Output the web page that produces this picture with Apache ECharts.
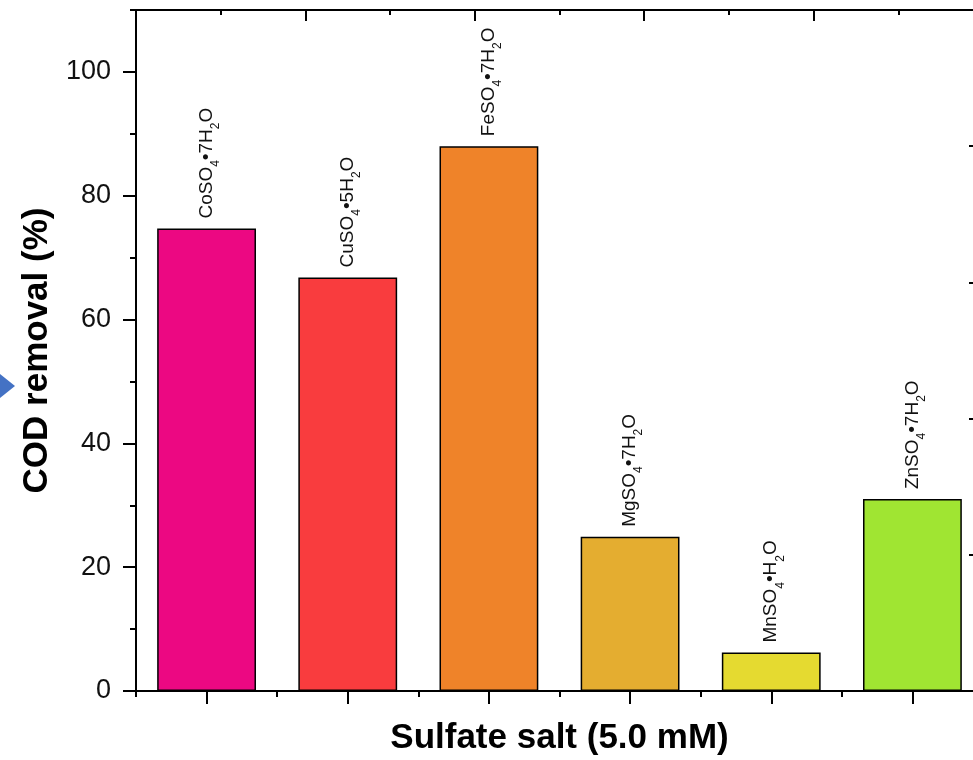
<!DOCTYPE html>
<html>
<head>
<meta charset="utf-8">
<script src="https://cdn.jsdelivr.net/npm/echarts@6/dist/echarts.min.js"></script>
<style>
html,body{margin:0;padding:0;background:#fff;}
#chart{width:973px;height:760px;}
</style>
</head>
<body>
<div id="chart"></div>
<script>
// ---- data ----
const categories = ['CoSO4•7H2O', 'CuSO4•5H2O', 'FeSO4•7H2O', 'MgSO4•7H2O', 'MnSO4•H2O', 'ZnSO4•7H2O'];
const codRemoval = [74.7, 66.8, 88.0, 24.9, 6.2, 31.0];
const barColors = ['#EC0882', '#F93C3E', '#EF8329', '#E4AD30', '#E5DA30', '#A0E532'];
const yLabelValues = [0, 20, 40, 60, 80, 100];
const yMinorTicks = [10, 30, 50, 70, 90, 110];
const xTitle = 'Sulfate salt (5.0 mM)';
const yTitle = 'COD removal (%)';

// digit right after a letter -> subscript
function richify(s) {
  let out = '', buf = '';
  for (let i = 0; i < s.length; i++) {
    const c = s[i];
    if (/[0-9]/.test(c) && i > 0 && /[A-Za-z]/.test(s[i - 1])) {
      if (buf) { out += '{n|' + buf + '}'; buf = ''; }
      out += '{s|' + c + '}';
    } else {
      buf += c;
    }
  }
  if (buf) out += '{n|' + buf + '}';
  return out;
}

const FONT = '"Liberation Sans", Arial, Helvetica, sans-serif';
const chart = echarts.init(document.getElementById('chart'), null, {renderer: 'canvas'});

const option = {
  backgroundColor: '#ffffff',
  animation: false,
  grid: {left: 136, top: 10, width: 847, bottom: 69, containLabel: false, outerBoundsMode: 'none'},
  xAxis: [
    {
      type: 'category', position: 'bottom', data: categories,
      axisLine: {show: true, onZero: false, lineStyle: {color: '#000', width: 2}},
      axisTick: {show: true, alignWithLabel: true, length: 13, lineStyle: {color: '#000', width: 2}},
      axisLabel: {show: false},
      splitLine: {show: false},
      name: xTitle, nameLocation: 'middle', nameGap: 30,
      nameTextStyle: {fontFamily: FONT, fontWeight: 'bold', fontSize: 35, color: '#000'}
    },
    {
      type: 'category', position: 'bottom', data: categories,
      axisLine: {show: false, onZero: false},
      axisTick: {show: true, length: 6, lineStyle: {color: '#000', width: 2}},
      axisLabel: {show: false}, splitLine: {show: false}
    },
    {
      type: 'value', position: 'top', min: 0, max: 5, interval: 1,
      axisLine: {show: true, onZero: false, lineStyle: {color: '#000', width: 2}},
      axisTick: {show: true, inside: true, length: 11, lineStyle: {color: '#000', width: 2}},
      minorTick: {show: true, splitNumber: 2, length: 5, lineStyle: {color: '#000', width: 2}},
      axisLabel: {show: false}, splitLine: {show: false}, minorSplitLine: {show: false}
    }
  ],
  yAxis: [
    {
      type: 'value', position: 'left', min: 0, max: 110, interval: 10,
      axisLine: {show: true, onZero: false, lineStyle: {color: '#000', width: 2}},
      axisTick: {show: true, customValues: yLabelValues, length: 13, lineStyle: {color: '#000', width: 2}},
      axisLabel: {
        show: true, customValues: yLabelValues, margin: 25,
        fontFamily: FONT, fontSize: 27, color: '#111',
        formatter: function (v) { return (v % 20 === 0 && v <= 100) ? String(v) : ''; }
      },
      splitLine: {show: false},
      name: yTitle, nameLocation: 'middle', nameGap: 76, nameRotate: 90,
      nameTextStyle: {fontFamily: FONT, fontWeight: 'bold', fontSize: 35, color: '#000'}
    },
    {
      type: 'value', position: 'left', min: 0, max: 110, interval: 10,
      axisLine: {show: false, onZero: false},
      axisTick: {show: true, customValues: yMinorTicks, length: 6, lineStyle: {color: '#000', width: 2}},
      axisLabel: {show: false}, splitLine: {show: false}
    },
    {
      type: 'value', position: 'right', min: 0, max: 5, interval: 1,
      axisLine: {show: true, onZero: false, lineStyle: {color: '#000', width: 2}},
      axisTick: {show: true, inside: true, length: 14, lineStyle: {color: '#000', width: 2}},
      axisLabel: {show: false}, splitLine: {show: false}
    }
  ],
  series: [{
    type: 'bar',
    xAxisIndex: 0, yAxisIndex: 0,
    barWidth: '70%',
    data: codRemoval.map((v, i) => ({
      value: v,
      itemStyle: {color: barColors[i], borderColor: '#000', borderWidth: 1.5}
    })),
    label: {
      show: true, position: 'top', distance: 10, rotate: 90,
      align: 'left', verticalAlign: 'middle',
      formatter: function (p) { return richify(p.name); },
      rich: {
        n: {fontFamily: FONT, fontSize: 19, color: '#111', lineHeight: 20, verticalAlign: 'middle'},
        s: {fontFamily: FONT, fontSize: 12, color: '#111', lineHeight: 30, verticalAlign: 'bottom'}
      }
    }
  }],
  graphic: [{
    type: 'polygon', z: 100,
    shape: {points: [[0, 374], [15, 386], [0, 398]]},
    style: {fill: '#4472C4'}
  }]
};
chart.setOption(option);
</script>
</body>
</html>
